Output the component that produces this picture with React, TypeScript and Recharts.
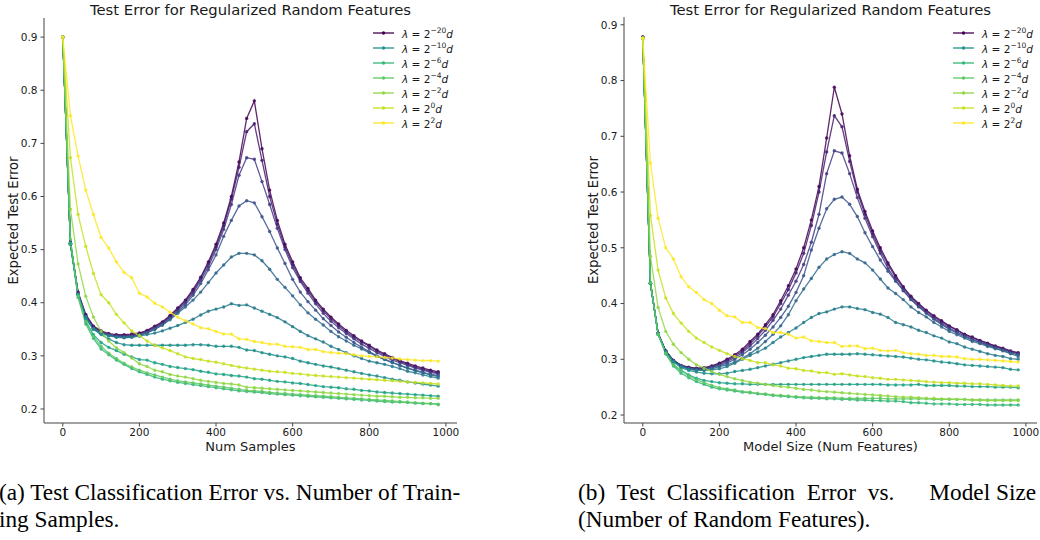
import React from "react";
import { LineChart, Line, XAxis, YAxis, Legend, Label } from "recharts";

// x positions (num samples / num features)
const sizes = [
  0, 20, 40, 60, 80, 100, 120, 140, 160, 180,
  200, 220, 240, 260, 280, 300, 320, 340, 360, 380,
  400, 420, 440, 460, 480, 500, 520, 540, 560, 580,
  600, 620, 640, 660, 680, 700, 720, 740, 760, 780,
  800, 820, 840, 860, 880, 900, 920, 940, 960, 980,
];

const xTicks = [0, 200, 400, 600, 800, 1000];
const yTicks = [0.2, 0.3, 0.4, 0.5, 0.6, 0.7, 0.8, 0.9];

// viridis, smallest lambda first
const seriesColors = [
  "#440154", "#481c6e", "#443a83", "#3b528b", "#31688e", "#287c8e", "#21918c",
  "#20a386", "#35b779", "#5ec962", "#90d743", "#c8e020", "#fde725",
];

const legendItems = [
  { idx: 0, exp: "\u221220" },
  { idx: 6, exp: "\u221210" },
  { idx: 8, exp: "\u22126" },
  { idx: 9, exp: "\u22124" },
  { idx: 10, exp: "\u22122" },
  { idx: 11, exp: "0" },
  { idx: 12, exp: "2" },
];

// ---- (a) error vs num samples ----
const samplesS0 = [
  0.900, 0.510, 0.420, 0.378, 0.356, 0.347, 0.342, 0.340, 0.340, 0.341,
  0.343, 0.348, 0.356, 0.364, 0.376, 0.390, 0.405, 0.425, 0.448, 0.477,
  0.510, 0.550, 0.600, 0.665, 0.747, 0.780, 0.690, 0.612, 0.555, 0.510,
  0.477, 0.447, 0.427, 0.405, 0.388, 0.373, 0.360, 0.348, 0.338, 0.328,
  0.320, 0.311, 0.304, 0.297, 0.291, 0.286, 0.281, 0.277, 0.273, 0.270,
];
const samplesS1 = [
  0.900, 0.515, 0.418, 0.376, 0.354, 0.345, 0.340, 0.338, 0.338, 0.339,
  0.342, 0.347, 0.354, 0.362, 0.374, 0.388, 0.403, 0.422, 0.446, 0.474,
  0.505, 0.545, 0.595, 0.655, 0.722, 0.737, 0.668, 0.600, 0.548, 0.505,
  0.472, 0.443, 0.423, 0.402, 0.385, 0.370, 0.357, 0.345, 0.335, 0.326,
  0.318, 0.309, 0.302, 0.295, 0.289, 0.284, 0.279, 0.275, 0.271, 0.268,
];
const samplesS2 = [
  0.900, 0.512, 0.416, 0.374, 0.352, 0.343, 0.339, 0.337, 0.337, 0.337,
  0.340, 0.345, 0.352, 0.360, 0.372, 0.385, 0.400, 0.418, 0.442, 0.468,
  0.500, 0.538, 0.585, 0.640, 0.673, 0.670, 0.628, 0.585, 0.540, 0.500,
  0.466, 0.440, 0.418, 0.398, 0.380, 0.365, 0.353, 0.342, 0.332, 0.322,
  0.314, 0.306, 0.299, 0.292, 0.287, 0.282, 0.277, 0.273, 0.269, 0.266,
];
const samplesS3 = [
  0.900, 0.512, 0.416, 0.374, 0.352, 0.343, 0.339, 0.336, 0.335, 0.336,
  0.339, 0.343, 0.350, 0.358, 0.370, 0.382, 0.396, 0.414, 0.436, 0.462,
  0.490, 0.525, 0.555, 0.582, 0.592, 0.588, 0.562, 0.534, 0.503, 0.474,
  0.444, 0.420, 0.402, 0.386, 0.370, 0.357, 0.345, 0.335, 0.325, 0.316,
  0.308, 0.300, 0.294, 0.288, 0.282, 0.277, 0.273, 0.269, 0.265, 0.263,
];
const samplesS4 = [
  0.900, 0.512, 0.416, 0.374, 0.352, 0.343, 0.339, 0.336, 0.335, 0.336,
  0.339, 0.343, 0.350, 0.358, 0.368, 0.380, 0.392, 0.405, 0.420, 0.438,
  0.456, 0.471, 0.486, 0.493, 0.493, 0.490, 0.479, 0.463, 0.444, 0.429,
  0.413, 0.396, 0.381, 0.369, 0.358, 0.346, 0.336, 0.328, 0.320, 0.313,
  0.306, 0.299, 0.293, 0.287, 0.282, 0.277, 0.272, 0.268, 0.264, 0.261,
];
const samplesS5 = [
  0.900, 0.512, 0.416, 0.372, 0.350, 0.342, 0.338, 0.335, 0.334, 0.335,
  0.337, 0.340, 0.343, 0.347, 0.352, 0.357, 0.363, 0.369, 0.377, 0.384,
  0.388, 0.392, 0.398, 0.395, 0.396, 0.390, 0.384, 0.378, 0.372, 0.364,
  0.355, 0.346, 0.338, 0.332, 0.326, 0.318, 0.312, 0.306, 0.300, 0.295,
  0.290, 0.287, 0.284, 0.280, 0.276, 0.271, 0.268, 0.264, 0.261, 0.258,
];
const samplesS6 = [
  0.900, 0.512, 0.415, 0.370, 0.350, 0.340, 0.332, 0.325, 0.321, 0.320,
  0.320, 0.320, 0.320, 0.320, 0.320, 0.320, 0.320, 0.321, 0.321, 0.320,
  0.318, 0.318, 0.318, 0.316, 0.311, 0.310, 0.306, 0.303, 0.300, 0.298,
  0.295, 0.290, 0.287, 0.284, 0.281, 0.279, 0.276, 0.273, 0.270, 0.267,
  0.264, 0.262, 0.259, 0.256, 0.254, 0.251, 0.249, 0.247, 0.245, 0.243,
];
const samplesS7 = [
  0.900, 0.512, 0.415, 0.365, 0.340, 0.325, 0.316, 0.310, 0.303, 0.298,
  0.293, 0.292, 0.287, 0.284, 0.280, 0.278, 0.276, 0.274, 0.271, 0.269,
  0.266, 0.265, 0.263, 0.262, 0.260, 0.257, 0.256, 0.254, 0.252, 0.251,
  0.249, 0.248, 0.246, 0.244, 0.242, 0.241, 0.240, 0.238, 0.237, 0.235,
  0.234, 0.232, 0.231, 0.230, 0.229, 0.228, 0.227, 0.226, 0.225, 0.224,
];
const samplesS8 = [
  0.900, 0.510, 0.410, 0.360, 0.333, 0.313, 0.302, 0.292, 0.284, 0.276,
  0.270, 0.265, 0.260, 0.256, 0.253, 0.250, 0.248, 0.246, 0.244, 0.242,
  0.240, 0.238, 0.236, 0.234, 0.233, 0.232, 0.231, 0.229, 0.228, 0.227,
  0.226, 0.225, 0.224, 0.223, 0.222, 0.221, 0.220, 0.219, 0.218, 0.217,
  0.216, 0.215, 0.214, 0.213, 0.213, 0.212, 0.211, 0.210, 0.210, 0.209,
];
const samplesS9 = [
  0.900, 0.520, 0.413, 0.365, 0.337, 0.318, 0.305, 0.295, 0.286, 0.279,
  0.273, 0.268, 0.264, 0.260, 0.256, 0.253, 0.251, 0.249, 0.247, 0.245,
  0.243, 0.241, 0.239, 0.237, 0.235, 0.234, 0.233, 0.231, 0.230, 0.229,
  0.228, 0.227, 0.226, 0.225, 0.224, 0.223, 0.222, 0.221, 0.220, 0.219,
  0.218, 0.217, 0.216, 0.215, 0.214, 0.213, 0.212, 0.211, 0.210, 0.208,
];
const samplesS10 = [
  0.900, 0.576, 0.473, 0.412, 0.373, 0.346, 0.328, 0.315, 0.306, 0.296,
  0.285, 0.280, 0.273, 0.270, 0.265, 0.262, 0.260, 0.257, 0.254, 0.252,
  0.250, 0.248, 0.247, 0.245, 0.241, 0.240, 0.239, 0.238, 0.237, 0.236,
  0.235, 0.234, 0.233, 0.232, 0.231, 0.230, 0.229, 0.228, 0.227, 0.226,
  0.225, 0.224, 0.224, 0.223, 0.222, 0.222, 0.221, 0.221, 0.220, 0.220,
];
const samplesS11 = [
  0.900, 0.673, 0.566, 0.506, 0.455, 0.415, 0.400, 0.378, 0.362, 0.347,
  0.338, 0.328, 0.320, 0.315, 0.310, 0.304, 0.298, 0.295, 0.293, 0.290,
  0.288, 0.285, 0.282, 0.279, 0.277, 0.275, 0.273, 0.271, 0.270, 0.269,
  0.267, 0.266, 0.264, 0.263, 0.262, 0.261, 0.260, 0.259, 0.258, 0.257,
  0.256, 0.255, 0.254, 0.253, 0.252, 0.251, 0.250, 0.249, 0.248, 0.247,
];
const samplesS12 = [
  0.900, 0.752, 0.676, 0.612, 0.566, 0.523, 0.503, 0.477, 0.457, 0.447,
  0.418, 0.411, 0.399, 0.392, 0.382, 0.373, 0.366, 0.360, 0.353, 0.351,
  0.346, 0.341, 0.341, 0.332, 0.331, 0.327, 0.325, 0.322, 0.322, 0.318,
  0.317, 0.316, 0.312, 0.312, 0.308, 0.306, 0.305, 0.304, 0.302, 0.300,
  0.299, 0.298, 0.297, 0.296, 0.294, 0.293, 0.292, 0.291, 0.291, 0.290,
];

// ---- (b) error vs num features ----
const featuresS0 = [
  0.878, 0.437, 0.347, 0.315, 0.298, 0.289, 0.286, 0.284, 0.285, 0.288,
  0.293, 0.300, 0.308, 0.318, 0.332, 0.345, 0.362, 0.380, 0.405, 0.432,
  0.462, 0.500, 0.550, 0.610, 0.697, 0.788, 0.740, 0.665, 0.605, 0.565,
  0.530, 0.500, 0.473, 0.450, 0.430, 0.413, 0.400, 0.388, 0.378, 0.369,
  0.360, 0.353, 0.345, 0.340, 0.334, 0.329, 0.324, 0.320, 0.315, 0.312,
];
const featuresS1 = [
  0.878, 0.436, 0.346, 0.315, 0.298, 0.289, 0.285, 0.283, 0.284, 0.287,
  0.292, 0.298, 0.306, 0.315, 0.328, 0.342, 0.358, 0.376, 0.400, 0.425,
  0.455, 0.490, 0.540, 0.600, 0.672, 0.737, 0.717, 0.655, 0.600, 0.560,
  0.525, 0.495, 0.470, 0.447, 0.428, 0.411, 0.398, 0.386, 0.376, 0.367,
  0.359, 0.352, 0.344, 0.339, 0.333, 0.328, 0.323, 0.319, 0.314, 0.311,
];
const featuresS2 = [
  0.877, 0.436, 0.346, 0.314, 0.297, 0.288, 0.284, 0.282, 0.283, 0.286,
  0.290, 0.296, 0.303, 0.312, 0.324, 0.337, 0.352, 0.370, 0.390, 0.415,
  0.440, 0.470, 0.510, 0.560, 0.633, 0.674, 0.670, 0.633, 0.590, 0.553,
  0.520, 0.490, 0.463, 0.442, 0.423, 0.407, 0.394, 0.383, 0.373, 0.364,
  0.356, 0.349, 0.342, 0.336, 0.331, 0.326, 0.322, 0.318, 0.313, 0.310,
];
const featuresS3 = [
  0.877, 0.436, 0.346, 0.314, 0.297, 0.288, 0.284, 0.282, 0.282, 0.285,
  0.288, 0.293, 0.300, 0.308, 0.318, 0.330, 0.343, 0.358, 0.375, 0.395,
  0.420, 0.450, 0.496, 0.535, 0.570, 0.587, 0.591, 0.578, 0.556, 0.527,
  0.502, 0.478, 0.458, 0.440, 0.424, 0.408, 0.395, 0.383, 0.372, 0.362,
  0.354, 0.347, 0.340, 0.335, 0.330, 0.325, 0.320, 0.316, 0.311, 0.308,
];
const featuresS4 = [
  0.876, 0.436, 0.346, 0.314, 0.297, 0.288, 0.283, 0.281, 0.281, 0.283,
  0.287, 0.290, 0.295, 0.302, 0.310, 0.320, 0.332, 0.345, 0.360, 0.380,
  0.405, 0.426, 0.445, 0.465, 0.480, 0.488, 0.493, 0.490, 0.480, 0.473,
  0.460, 0.444, 0.428, 0.418, 0.407, 0.394, 0.384, 0.376, 0.366, 0.358,
  0.350, 0.344, 0.338, 0.332, 0.328, 0.323, 0.319, 0.315, 0.310, 0.305,
];
const featuresS5 = [
  0.876, 0.436, 0.346, 0.313, 0.296, 0.287, 0.282, 0.280, 0.280, 0.281,
  0.283, 0.287, 0.293, 0.300, 0.307, 0.313, 0.320, 0.330, 0.340, 0.348,
  0.356, 0.366, 0.375, 0.382, 0.385, 0.390, 0.394, 0.394, 0.391, 0.389,
  0.384, 0.381, 0.375, 0.366, 0.362, 0.358, 0.352, 0.348, 0.342, 0.338,
  0.331, 0.328, 0.322, 0.318, 0.314, 0.310, 0.307, 0.305, 0.301, 0.300,
];
const featuresS6 = [
  0.876, 0.437, 0.345, 0.313, 0.295, 0.285, 0.280, 0.277, 0.275, 0.274,
  0.274, 0.275, 0.278, 0.280, 0.282, 0.285, 0.288, 0.291, 0.294, 0.297,
  0.300, 0.303, 0.305, 0.307, 0.309, 0.309, 0.309, 0.309, 0.310, 0.309,
  0.308, 0.307, 0.306, 0.305, 0.304, 0.302, 0.300, 0.299, 0.297, 0.295,
  0.294, 0.292, 0.290, 0.289, 0.288, 0.287, 0.286, 0.285, 0.282, 0.281,
];
const featuresS7 = [
  0.876, 0.437, 0.345, 0.310, 0.290, 0.280, 0.272, 0.266, 0.262, 0.260,
  0.258, 0.257, 0.256, 0.256, 0.255, 0.255, 0.255, 0.255, 0.255, 0.255,
  0.255, 0.255, 0.255, 0.255, 0.255, 0.255, 0.255, 0.255, 0.255, 0.255,
  0.255, 0.255, 0.254, 0.254, 0.254, 0.254, 0.255, 0.253, 0.253, 0.253,
  0.253, 0.252, 0.252, 0.251, 0.251, 0.251, 0.250, 0.250, 0.250, 0.249,
];
const featuresS8 = [
  0.876, 0.437, 0.345, 0.310, 0.288, 0.275, 0.267, 0.260, 0.255, 0.250,
  0.247, 0.245, 0.243, 0.241, 0.240, 0.238, 0.237, 0.235, 0.234, 0.233,
  0.232, 0.231, 0.230, 0.230, 0.229, 0.229, 0.228, 0.228, 0.227, 0.227,
  0.226, 0.226, 0.225, 0.225, 0.224, 0.222, 0.222, 0.221, 0.220, 0.220,
  0.220, 0.219, 0.219, 0.219, 0.219, 0.218, 0.218, 0.218, 0.218, 0.218,
];
const featuresS9 = [
  0.876, 0.437, 0.345, 0.311, 0.290, 0.280, 0.270, 0.264, 0.258, 0.253,
  0.249, 0.247, 0.245, 0.242, 0.241, 0.239, 0.238, 0.236, 0.235, 0.234,
  0.233, 0.232, 0.232, 0.231, 0.231, 0.231, 0.230, 0.230, 0.230, 0.230,
  0.230, 0.230, 0.229, 0.229, 0.229, 0.229, 0.229, 0.229, 0.228, 0.228,
  0.228, 0.228, 0.228, 0.227, 0.227, 0.227, 0.227, 0.227, 0.227, 0.227,
];
const featuresS10 = [
  0.876, 0.485, 0.393, 0.350, 0.327, 0.312, 0.300, 0.290, 0.284, 0.278,
  0.273, 0.269, 0.265, 0.262, 0.259, 0.257, 0.255, 0.253, 0.251, 0.250,
  0.248, 0.246, 0.245, 0.243, 0.242, 0.241, 0.240, 0.239, 0.238, 0.237,
  0.236, 0.235, 0.234, 0.233, 0.232, 0.232, 0.231, 0.230, 0.230, 0.229,
  0.229, 0.228, 0.228, 0.227, 0.227, 0.226, 0.226, 0.226, 0.226, 0.226,
];
const featuresS11 = [
  0.876, 0.558, 0.460, 0.410, 0.382, 0.365, 0.350, 0.338, 0.330, 0.322,
  0.316, 0.310, 0.305, 0.301, 0.298, 0.294, 0.294, 0.290, 0.288, 0.284,
  0.283, 0.280, 0.279, 0.276, 0.276, 0.273, 0.274, 0.272, 0.270, 0.269,
  0.267, 0.266, 0.264, 0.264, 0.263, 0.262, 0.261, 0.260, 0.259, 0.258,
  0.258, 0.257, 0.257, 0.256, 0.256, 0.255, 0.254, 0.253, 0.252, 0.252,
];
const featuresS12 = [
  0.876, 0.652, 0.553, 0.500, 0.480, 0.448, 0.430, 0.420, 0.407, 0.400,
  0.388, 0.378, 0.376, 0.366, 0.366, 0.357, 0.355, 0.348, 0.348, 0.345,
  0.338, 0.340, 0.333, 0.332, 0.330, 0.330, 0.323, 0.324, 0.324, 0.319,
  0.320, 0.316, 0.315, 0.316, 0.312, 0.310, 0.309, 0.307, 0.307, 0.305,
  0.305, 0.304, 0.301, 0.300, 0.300, 0.299, 0.298, 0.297, 0.296, 0.295,
];

const samplesSeries = [
  samplesS0, samplesS1, samplesS2, samplesS3, samplesS4, samplesS5, samplesS6,
  samplesS7, samplesS8, samplesS9, samplesS10, samplesS11, samplesS12,
];
const featuresSeries = [
  featuresS0, featuresS1, featuresS2, featuresS3, featuresS4, featuresS5, featuresS6,
  featuresS7, featuresS8, featuresS9, featuresS10, featuresS11, featuresS12,
];

function buildRows(series: number[][]) {
  return sizes.map((x, i) => {
    const row: Record<string, number> = { x };
    series.forEach((s, k) => {
      row["s" + k] = s[i];
    });
    return row;
  });
}

const FONT = "'DejaVu Sans', sans-serif";
const FRAME = "#444";
const TEXT = "#1a1a1a";

function LegendBox() {
  return (
    <div style={{ fontFamily: FONT, fontSize: 10.5, color: TEXT }}>
      {legendItems.map((it) => (
        <div key={it.idx} style={{ display: "flex", alignItems: "center", height: 15 }}>
          <svg width={21} height={6} style={{ marginRight: 8 }}>
            <line x1={0} y1={3} x2={21} y2={3} stroke={seriesColors[it.idx]} strokeWidth={1.3} />
            <circle cx={10.5} cy={3} r={1.7} fill={seriesColors[it.idx]} />
          </svg>
          <span style={{ whiteSpace: "nowrap" }}>
            <i>λ</i> = 2<sup style={{ fontSize: 7.5 }}>{it.exp}</sup>
            <i>d</i>
          </span>
        </div>
      ))}
    </div>
  );
}

function Panel({
  series,
  yDomain,
  xLabel,
  left,
  top,
}: {
  series: number[][];
  yDomain: [number, number];
  xLabel: string;
  left: number;
  top: number;
}) {
  const rows = buildRows(series);
  const tick = { fill: TEXT, fontSize: 10.5, fontFamily: FONT };
  return (
    <div style={{ position: "absolute", left, top: 0 }}>
      <LineChart
        width={460}
        height={470}
        data={rows}
        margin={{ top, right: 3, left: 0, bottom: 0 }}
      >
        <XAxis
          dataKey="x"
          type="number"
          domain={[-49, 1029]}
          ticks={xTicks}
          interval={0}
          allowDataOverflow
          height={47}
          tickSize={3.5}
          tickMargin={2}
          axisLine={{ stroke: FRAME }}
          tickLine={{ stroke: FRAME }}
          tick={tick}
        >
          <Label
            value={xLabel}
            position="center"
            style={{ fontFamily: FONT, fontSize: 13, fill: TEXT }}
          />
        </XAxis>
        <XAxis
          xAxisId="top"
          orientation="top"
          dataKey="x"
          type="number"
          domain={[-49, 1029]}
          height={0}
          tick={false}
          tickLine={false}
          axisLine={{ stroke: FRAME }}
        />
        <YAxis
          type="number"
          domain={yDomain}
          ticks={yTicks}
          interval={0}
          allowDataOverflow
          width={44}
          tickSize={3.5}
          tickMargin={3}
          tickFormatter={(v: number) => v.toFixed(1)}
          axisLine={{ stroke: FRAME }}
          tickLine={{ stroke: FRAME }}
          tick={tick}
        >
          <Label
            value="Expected Test Error"
            angle={-90}
            position="center"
            dx={-9}
            style={{ fontFamily: FONT, fontSize: 13.2, fill: TEXT }}
          />
        </YAxis>
        <YAxis
          yAxisId="right"
          orientation="right"
          width={0}
          tick={false}
          tickLine={false}
          axisLine={{ stroke: FRAME }}
        />
        {series.map((_, k) => (
          <Line
            key={k}
            dataKey={"s" + k}
            type="linear"
            stroke={seriesColors[k]}
            strokeWidth={1.3}
            strokeOpacity={0.85}
            dot={{ r: 1.7, fill: seriesColors[k], stroke: "none", fillOpacity: 0.85 }}
            activeDot={false}
            isAnimationActive={false}
          />
        ))}
        <Legend
          layout="horizontal"
          verticalAlign="middle"
          align="center"
          content={() => <LegendBox />}
          wrapperStyle={{ left: 373, top: 25, width: 85, height: 105 }}
        />
      </LineChart>
      <div
        style={{
          position: "absolute",
          left: 44,
          width: 413,
          top: 1,
          textAlign: "center",
          fontFamily: FONT,
          fontSize: 14.8,
          color: TEXT,
          whiteSpace: "nowrap",
        }}
      >
        Test Error for Regularized Random Features
      </div>
    </div>
  );
}

export default function App() {
  const caption: React.CSSProperties = {
    position: "absolute",
    fontFamily: "'Liberation Serif', 'Times New Roman', serif",
    fontSize: 23.3,
    lineHeight: "27px",
    color: "#000",
    whiteSpace: "nowrap",
  };
  return (
    <div
      style={{
        position: "absolute",
        left: 0,
        top: 0,
        width: 1040,
        height: 540,
        overflow: "hidden",
        background: "#fff",
      }}
    >
      <Panel series={samplesSeries} yDomain={[0.1736, 0.936]} xLabel="Num Samples" left={0} top={18} />
      <Panel
        series={featuresSeries}
        yDomain={[0.1857, 0.914]}
        xLabel="Model Size (Num Features)"
        left={580}
        top={17}
      />
      <div style={{ ...caption, left: -1, top: 479 }}>
        (a) Test Classification Error vs. Number of Train-
        <br />
        ing Samples.
      </div>
      <div style={{ ...caption, left: 578, top: 479 }}>
        <span style={{ wordSpacing: 6 }}>{"(b) Test Classification Error vs."}</span>
        <span style={{ display: "inline-block", width: 35 }} />
        {"Model Size"}
        <br />
        (Number of Random Features).
      </div>
    </div>
  );
}
